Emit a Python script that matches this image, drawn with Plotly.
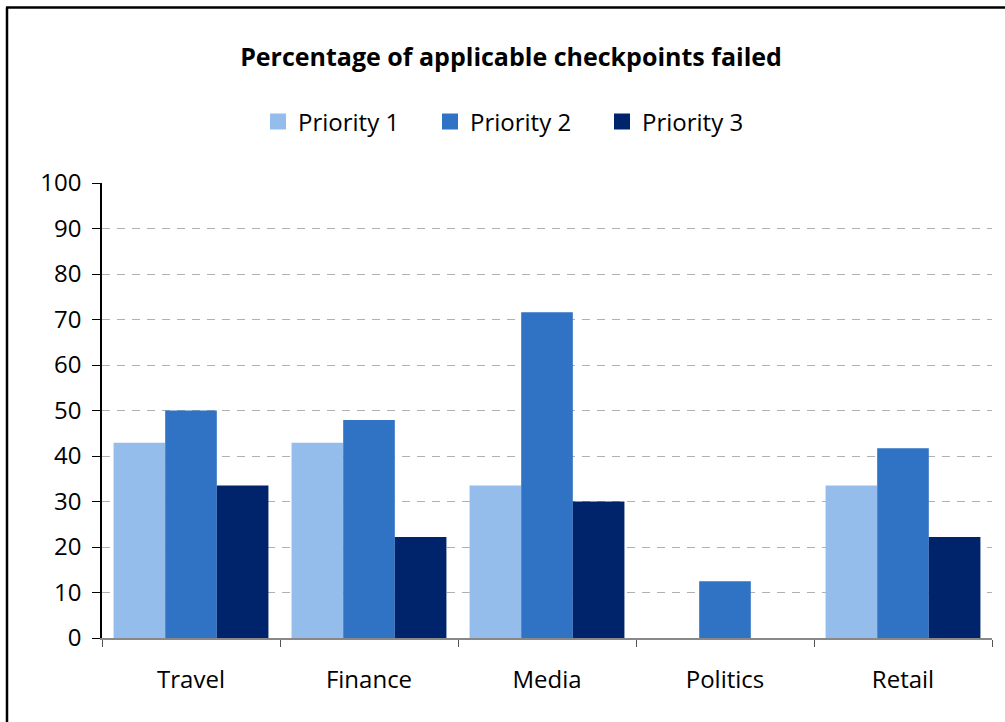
import plotly.graph_objects as go

categories = ["Travel", "Finance", "Media", "Politics", "Retail"]
priority1 = [42.9, 42.9, 33.5, 0, 33.5]
priority2 = [50.0, 47.9, 71.6, 12.5, 41.7]
priority3 = [33.5, 22.2, 30.0, 0, 22.2]
series_names = ["Priority 1", "Priority 2", "Priority 3"]
colors = ["#95BDEB", "#3072C4", "#00246B"]

fig = go.Figure()
for name, vals, col in zip(series_names, [priority1, priority2, priority3], colors):
    fig.add_trace(go.Bar(x=categories, y=vals, name=name, showlegend=False,
                         marker=dict(color=col, line=dict(width=0))))
# legend entries with larger square swatches
for name, col in zip(series_names, colors):
    fig.add_trace(go.Scatter(x=[categories[0]], y=[None], mode="markers", name=name,
                             marker=dict(symbol="square", size=18, color=col),
                             hoverinfo="skip"))

W, H = 1005, 722
L, R, T, B = 102, 13, 183, 84
pw, ph = W - L - R, H - T - B

def px_x(x):
    return (x - L) / pw

def px_y(y):
    return (H - B - y) / ph

fig.update_layout(
    width=W, height=H,
    margin=dict(l=L, r=R, t=T, b=B, pad=0),
    paper_bgcolor="white", plot_bgcolor="white",
    barmode="group", bargap=0.13, bargroupgap=0,
    font=dict(family="Open Sans", size=24, color="black"),
    title=dict(text="<b>Percentage of applicable checkpoints failed</b>",
               x=px_x(511), xanchor="center", xref="paper", y=1 - 57 / H, yanchor="middle",
               font=dict(size=25, family="Open Sans", color="black")),
    legend=dict(orientation="h", x=px_x(516), xanchor="center", y=px_y(122), yanchor="middle",
                font=dict(size=24), itemsizing="trace", traceorder="normal",
                entrywidth=127, entrywidthmode="pixels"),
    showlegend=True,
)
fig.update_xaxes(
    type="category", showline=True, linecolor="#888888", linewidth=1.5,
    ticks="outside", tickson="boundaries", ticklen=7, tickcolor="#555555",
    showgrid=False, tickfont=dict(size=24), ticklabelstandoff=19,
)
fig.update_yaxes(
    range=[0, 100], dtick=10, showline=True, linecolor="black", linewidth=1.5,
    ticks="outside", ticklen=8, tickcolor="black",
    showgrid=True, gridcolor="#B0B0B0", gridwidth=1, griddash="8px,7px",
    zeroline=False, tickfont=dict(size=24), ticklabelstandoff=6,
)
fig.add_shape(type="line", xref="paper", yref="paper",
              x0=px_x(7), x1=px_x(7), y0=px_y(730), y1=px_y(7.5),
              line=dict(color="black", width=2.5), layer="above")
fig.add_shape(type="line", xref="paper", yref="paper",
              x0=px_x(6), x1=px_x(1010), y0=px_y(7.5), y1=px_y(7.5),
              line=dict(color="black", width=2.5), layer="above")

fig.write_html("out.html", config={"displayModeBar": False},
               post_script="document.body.style.margin='0';document.body.style.overflow='hidden';")
